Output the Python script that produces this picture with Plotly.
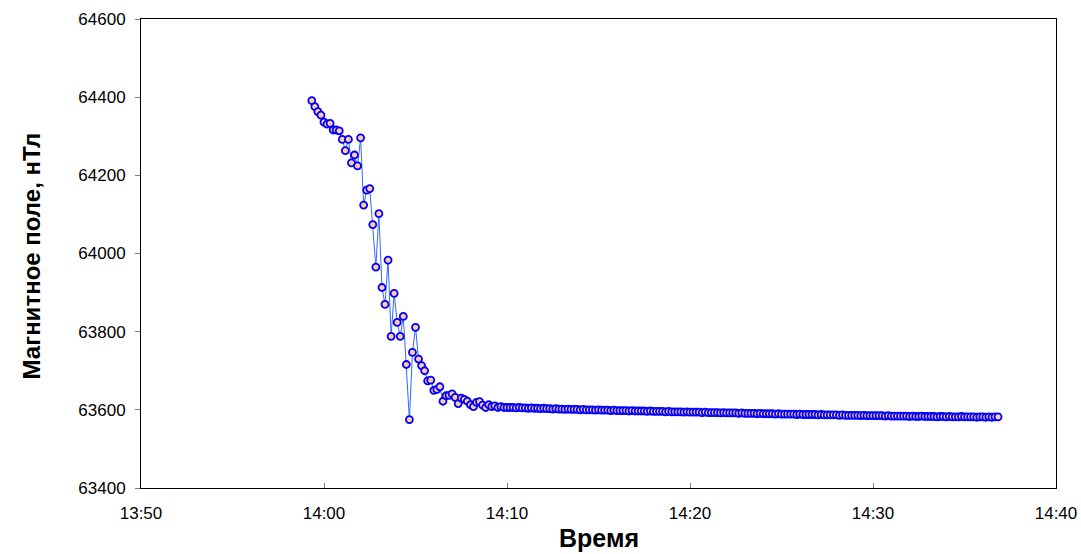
import pandas as pd
import plotly.graph_objects as go

# --- data ---
start_time = "2000-01-01 13:59:20"
sample_step = "10s"

transient_values = [
    64391, 64376, 64363, 64354, 64336, 64331, 64333, 64316, 64316, 64314,
    64292, 64263, 64292, 64232, 64252, 64224, 64296, 64124, 64162, 64166,
    64074, 63965, 64102, 63913, 63870, 63983, 63788, 63898, 63824, 63788,
    63839, 63716, 63575, 63747, 63811, 63730, 63713, 63700, 63674, 63676,
    63650, 63652, 63659, 63622, 63636, 63637, 63641, 63632, 63616, 63630,
    63627, 63622, 63613, 63608, 63619, 63621, 63612, 63606, 63613, 63608,
    63610, 63606, 63608, 63606, 63606, 63606,
]

settled_values = [
    63606, 63605, 63606, 63605, 63605, 63604, 63605, 63604, 63604, 63603,
    63604, 63603, 63603, 63602, 63603, 63602, 63602, 63601, 63602, 63601,
    63601, 63601, 63600, 63601, 63600, 63600, 63600, 63599, 63600, 63599,
    63599, 63599, 63598, 63599, 63598, 63598, 63598, 63598, 63597, 63598,
    63597, 63597, 63597, 63597, 63596, 63597, 63596, 63596, 63596, 63596,
    63595, 63596, 63595, 63595, 63595, 63595, 63594, 63595, 63594, 63594,
    63594, 63594, 63593, 63594, 63593, 63593, 63593, 63593, 63592, 63593,
    63592, 63592, 63592, 63592, 63591, 63592, 63591, 63591, 63591, 63591,
    63590, 63591, 63590, 63590, 63590, 63590, 63589, 63590, 63589, 63589,
    63589, 63589, 63589, 63588, 63589, 63588, 63588, 63588, 63588, 63588,
    63587, 63588, 63587, 63587, 63587, 63587, 63587, 63586, 63587, 63586,
    63586, 63586, 63586, 63586, 63585, 63586, 63585, 63585, 63585, 63585,
    63585, 63585, 63584, 63585, 63584, 63584, 63584, 63584, 63584, 63584,
    63583, 63584, 63583, 63583, 63584, 63583, 63583, 63583, 63583, 63582,
    63583, 63583, 63582, 63583, 63582, 63582, 63582, 63583, 63582, 63582,
    63582, 63582, 63581, 63582, 63582, 63581, 63582, 63581, 63582, 63582,
]

field_values = transient_values + settled_values
times = pd.date_range(start_time, periods=len(field_values), freq=sample_step)

x_range = ["2000-01-01 13:50:00", "2000-01-01 14:40:00"]
y_range = [63400, 64600]
y_tick_values = [63400, 63600, 63800, 64000, 64200, 64400, 64600]
y_tick_labels = ["63400", "63600", "63800", "64000", "64200", "64400", "64600"]

x_title = "Время"
y_title = "Магнитное поле, нТл"

fig = go.Figure(
    go.Scatter(
        x=times,
        y=field_values,
        mode="lines+markers",
        line=dict(color="#3366FF", width=1),
        marker=dict(
            symbol="circle",
            size=7,
            color="#FFCC99",
            line=dict(color="#0000FF", width=1.8),
        ),
        showlegend=False,
    )
)

font_family = "Liberation Sans, Arial, sans-serif"

fig.update_layout(
    width=1081,
    height=554,
    margin=dict(l=141, r=25, t=19, b=66),
    paper_bgcolor="white",
    plot_bgcolor="white",
    font=dict(family=font_family, color="black"),
    annotations=[
        dict(
            text="<b>" + x_title + "</b>",
            xref="paper", yref="paper",
            x=0.5, y=0,
            yshift=-50,
            xanchor="center", yanchor="middle",
            showarrow=False,
            font=dict(size=25, family=font_family, color="black"),
        ),
        dict(
            text="<b>" + y_title + "</b>",
            xref="paper", yref="paper",
            x=0, y=0.5,
            xshift=-110,
            yshift=-3,
            textangle=-90,
            xanchor="center", yanchor="middle",
            showarrow=False,
            font=dict(size=24, family=font_family, color="black"),
        ),
    ],
)

fig.update_xaxes(
    range=x_range,
    tickformat="%H:%M",
    dtick=600000,
    tick0="2000-01-01 13:50:00",
    ticks="inside",
    ticklen=5,
    tickcolor="#808080",
    ticklabelstandoff=10,
    showgrid=False,
    zeroline=False,
    showline=True,
    linecolor="black",
    linewidth=1,
    mirror=True,
    automargin=False,
    tickfont=dict(size=17, family=font_family),
)

fig.update_yaxes(
    range=y_range,
    tickvals=y_tick_values,
    ticktext=y_tick_labels,
    ticks="outside",
    ticklen=5,
    tickcolor="#808080",
    ticklabelstandoff=6,
    showgrid=False,
    zeroline=False,
    showline=True,
    linecolor="black",
    linewidth=1,
    mirror=True,
    automargin=False,
    tickfont=dict(size=17, family=font_family),
)

# remove the page's default body margin so the figure fills the window exactly
fig.write_html(
    "out.html",
    config={"displayModeBar": False},
    post_script="document.body.style.margin='0px';document.body.style.overflow='hidden';",
)
